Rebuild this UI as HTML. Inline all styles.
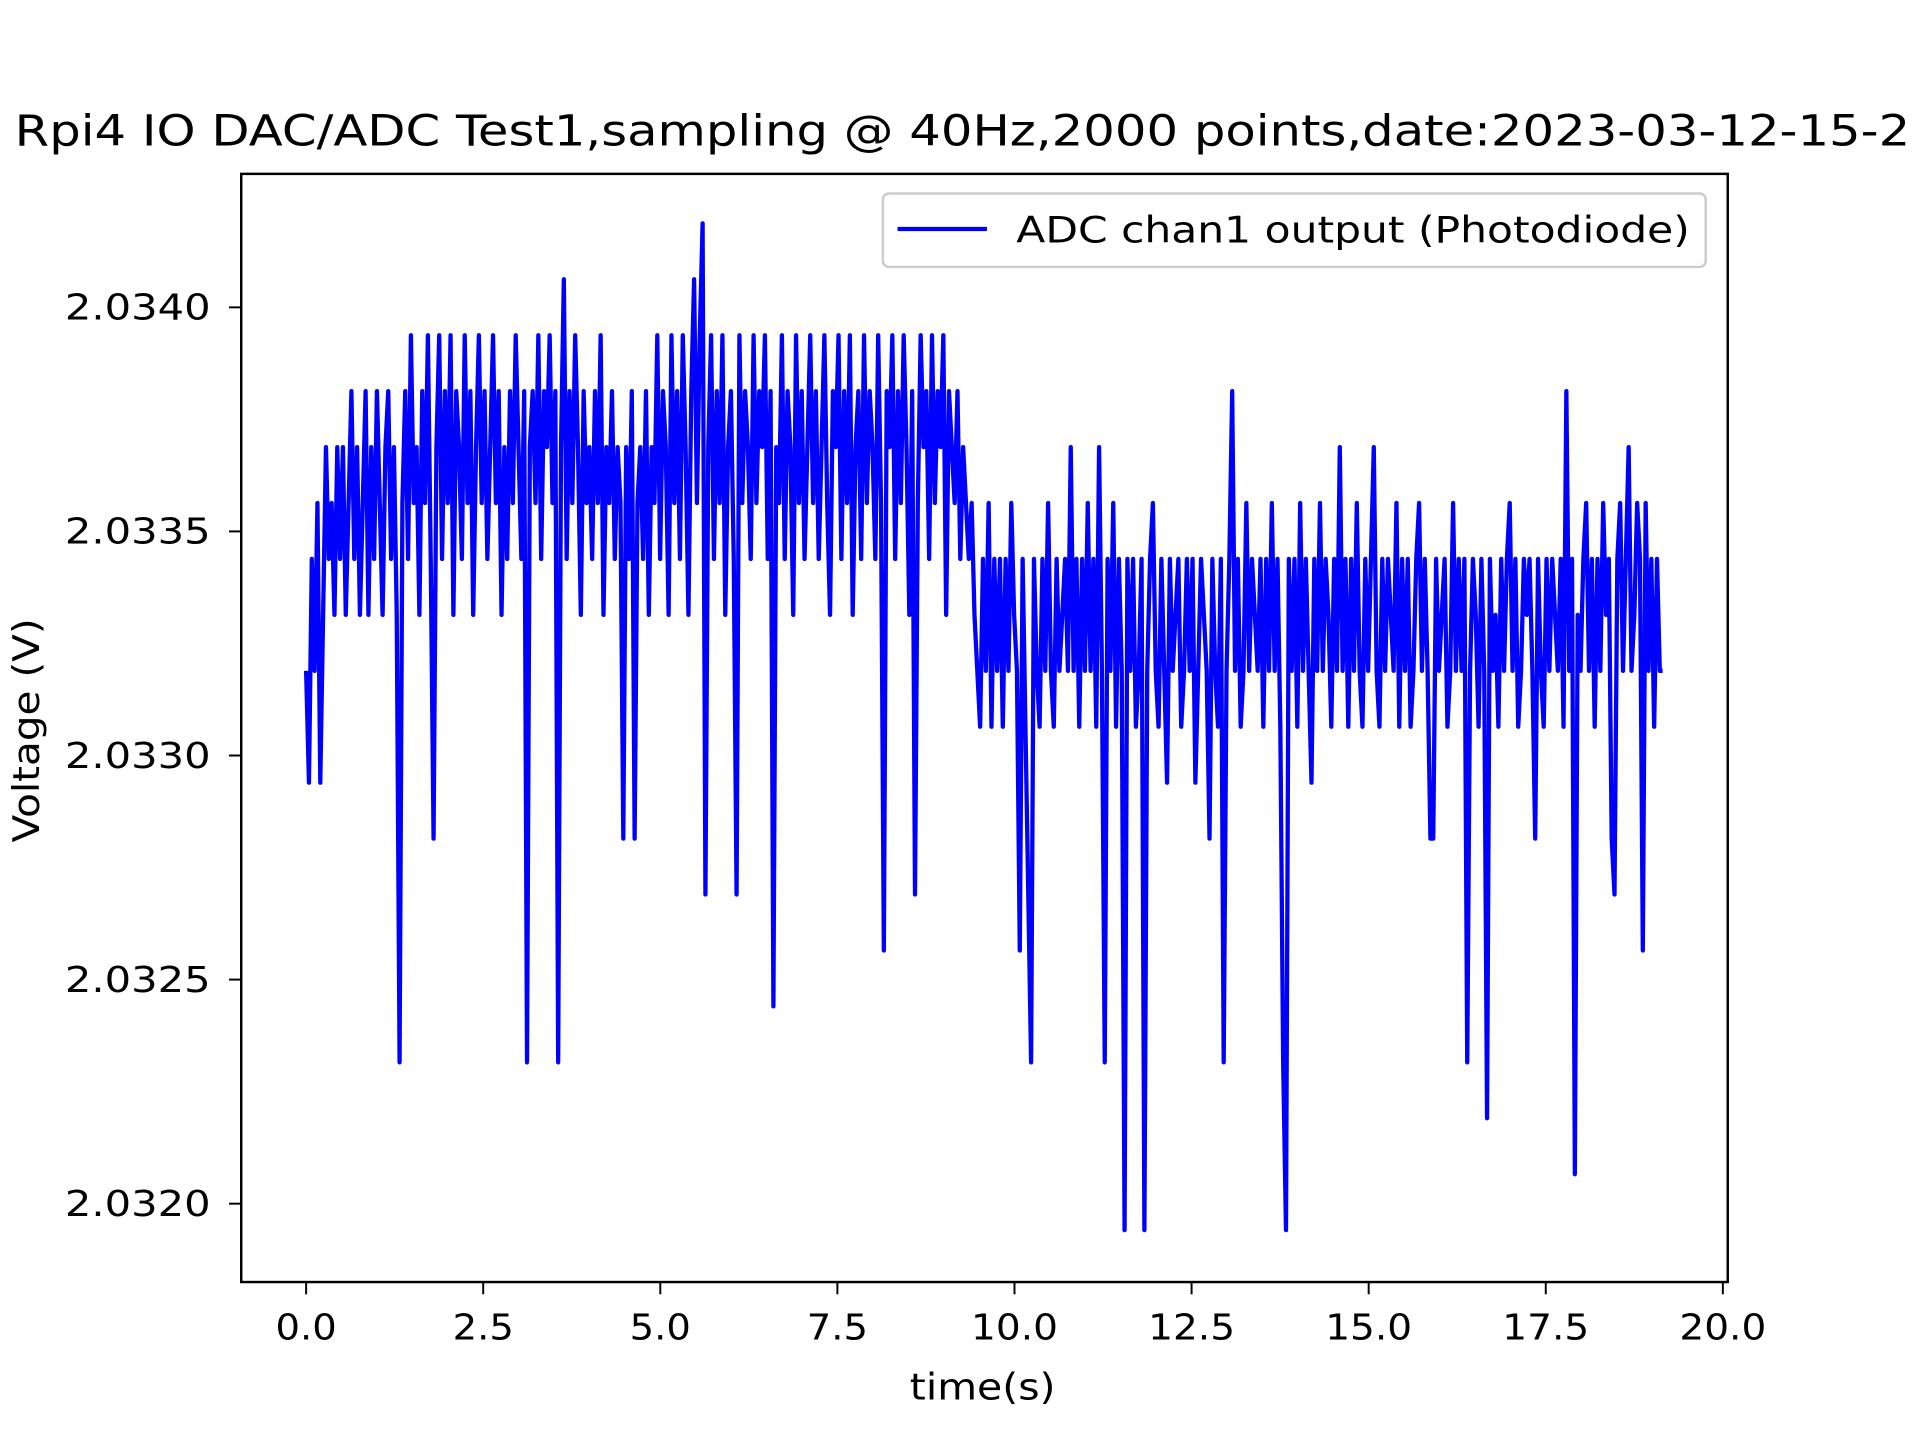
<!DOCTYPE html>
<html><head><meta charset="utf-8"><style>
html,body{margin:0;padding:0;background:#fff;width:1920px;height:1440px;overflow:hidden}
svg text{font-family:"DejaVu Sans","Liberation Sans",sans-serif;fill:#000}
</style></head><body>
<svg id="chart" width="1920" height="1440" viewBox="0 0 1568 1176" xmlns="http://www.w3.org/2000/svg">
<text x="12" y="119" font-size="35" textLength="1548" lengthAdjust="spacingAndGlyphs">Rpi4 IO DAC/ADC Test1,sampling @ 40Hz,2000 points,date:2023-03-12-15-2</text>
<g id="plot"></g>
<rect x="197" y="142" width="1214" height="905" fill="none" stroke="#000" stroke-width="2"/>
<g id="xticks"></g><g id="yticks"></g>
<text x="743" y="1143" font-size="30" textLength="119" lengthAdjust="spacingAndGlyphs">time(s)</text>
<text transform="translate(32,688) rotate(-90)" font-size="30" textLength="183" lengthAdjust="spacingAndGlyphs">Voltage (V)</text>
<g>
<rect x="721" y="158" width="672" height="60" rx="5" fill="#fff" stroke="#ccc" stroke-width="2"/>
<line x1="733" y1="187" x2="806" y2="187" stroke="#0000ff" stroke-width="3.5"/>
<text x="830" y="198" font-size="30" textLength="550" lengthAdjust="spacingAndGlyphs">ADC chan1 output  (Photodiode)</text>
</g>
</svg>
<script>
const xTicks=[0,2.5,5,7.5,10,12.5,15,17.5,20];
const xTickLabels=["0.0","2.5","5.0","7.5","10.0","12.5","15.0","17.5","20.0"];
const yTicks=[2.032,2.0325,2.033,2.0335,2.034];
const yTickLabels=["2.0320","2.0325","2.0330","2.0335","2.0340"];
const duration=19.15;
const baseVolt=2.033189;
const lsbVolt=0.0001248;
const adcSteps=[
0,-2,2,0,3,-2,1,4,2,3,1,4,2,4,1,3,5,2,4,1,
3,5,1,4,2,5,3,1,4,5,2,4,1,-7,3,5,2,6,3,4,
1,5,3,6,2,-3,4,6,2,5,3,6,1,5,4,2,6,3,5,1,
4,6,3,5,2,4,6,3,5,1,4,2,5,3,6,4,2,5,-7,4,
5,3,6,2,5,4,6,3,5,-7,4,7,2,5,3,6,4,1,5,3,
4,2,5,3,6,1,4,3,5,2,4,3,-3,4,2,5,-3,3,4,2,
5,1,4,3,6,2,5,4,1,6,3,5,2,6,4,1,5,7,3,6,
8,-4,4,6,2,5,3,6,1,4,5,2,-4,6,3,5,4,2,6,3,
5,4,6,2,5,-6,4,3,6,2,5,4,1,6,3,5,2,4,6,3,
5,2,4,6,3,1,5,4,6,2,5,3,6,1,4,5,2,6,3,5,
4,2,6,3,-5,5,4,6,2,5,3,6,4,1,5,-4,3,6,4,5,
2,6,3,5,4,6,1,5,4,3,5,2,4,3,2,
3,1,0,-1,2,0,3,-1,2,0,2,-1,2,0,3,1,0,-5,2,-1,
-4,-7,2,0,-1,2,0,3,0,-1,2,0,1,2,0,4,0,2,-1,2,
0,3,0,2,-1,4,0,-7,2,0,3,-1,2,0,-10,2,0,2,-1,0,
2,-10,0,2,3,0,-1,2,0,-2,2,0,1,2,-1,0,2,0,2,-2,
0,2,1,0,-3,2,0,-1,2,-7,0,2,5,0,2,-1,0,3,0,2,
1,0,2,-1,2,0,3,0,2,-1,-7,-10,2,0,2,-1,3,0,2,0,
-2,2,0,3,0,2,1,-1,2,0,4,0,2,-1,2,0,3,0,-1,2,
0,2,4,0,-1,2,0,2,1,0,3,-1,2,0,2,-1,0,2,3,0,
2,0,-3,-3,2,0,1,2,-1,0,3,0,2,0,2,-7,0,2,1,-1,
2,0,-8,2,0,1,-1,2,0,2,3,0,2,-1,0,2,1,2,0,-3,
2,0,-1,2,0,2,1,0,2,-1,5,0,2,-9,1,0,2,3,0,2,
-1,2,0,3,1,2,-3,-4,2,3,0,2,4,0,1,3,2,-5,3,0,
2,-1,2,0,0];
const NS="http://www.w3.org/2000/svg";
function xs(t){return 250+(t-0)*(1407-250)/20;}
function ys(v){return 251+(2.034-v)*366000;}
const plot=document.getElementById('plot');
let d="";
const n=adcSteps.length;
for(let i=0;i<n;i++){
  const t=i*duration/(n-1);
  const v=baseVolt+adcSteps[i]*lsbVolt;
  d+=(i?"L":"M")+xs(t).toFixed(2)+","+ys(v).toFixed(2);
}
const p=document.createElementNS(NS,'path');
p.setAttribute('d',d);p.setAttribute('fill','none');p.setAttribute('stroke','#0000ff');
p.setAttribute('stroke-width','3.5');p.setAttribute('stroke-linejoin','round');


plot.appendChild(p);
const xg=document.getElementById('xticks');
xTicks.forEach((t,i)=>{
  const l=document.createElementNS(NS,'line');
  l.setAttribute('x1',xs(t));l.setAttribute('x2',xs(t));l.setAttribute('y1',1047);l.setAttribute('y2',1057);
  l.setAttribute('stroke','#000');l.setAttribute('stroke-width','1.6');
  
  
  xg.appendChild(l);
  const tx=document.createElementNS(NS,'text');
  const w=xTickLabels[i].length===3?50:71;
  tx.setAttribute('x',xs(t)-w/2);tx.setAttribute('y',1094);tx.setAttribute('font-size','29');
  tx.setAttribute('textLength',w);tx.setAttribute('lengthAdjust','spacingAndGlyphs');
  tx.textContent=xTickLabels[i];
  
  
  xg.appendChild(tx);
});
const yg=document.getElementById('yticks');
yTicks.forEach((v,i)=>{
  const l=document.createElementNS(NS,'line');
  l.setAttribute('x1',187);l.setAttribute('x2',197);l.setAttribute('y1',ys(v));l.setAttribute('y2',ys(v));
  l.setAttribute('stroke','#000');l.setAttribute('stroke-width','1.6');
  
  
  yg.appendChild(l);
  const tx=document.createElementNS(NS,'text');
  tx.setAttribute('x',53);tx.setAttribute('y',ys(v)+10);tx.setAttribute('font-size','29');
  tx.setAttribute('textLength',119);tx.setAttribute('lengthAdjust','spacingAndGlyphs');
  tx.textContent=yTickLabels[i];
  
  
  yg.appendChild(tx);
});
</script>
</body></html>
